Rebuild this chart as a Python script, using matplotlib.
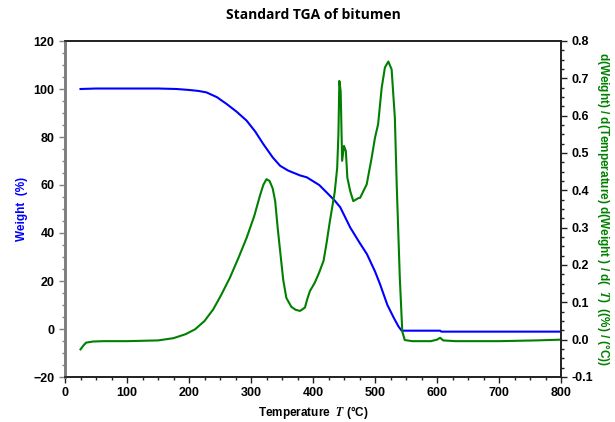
"""Standard TGA of bitumen: weight and its temperature derivative."""

import matplotlib

matplotlib.use("Agg")
import matplotlib.pyplot as plt
from matplotlib.ticker import FormatStrFormatter, MultipleLocator

# weight curve (%)
temp_w = [25, 50, 100, 150, 180, 200, 215, 228, 245, 261, 277, 293, 307, 320,
          335, 347, 360, 379, 390, 410, 422, 435, 444, 460, 475, 487, 500, 508,
          520, 530, 538, 543, 550, 605, 607, 700, 800]
weight = [100, 100.2, 100.2, 100.2, 100, 99.6, 99.2, 98.6, 96.6, 93.7, 90.5,
          86.8, 82.2, 77, 71.5, 68, 66, 64, 63.2, 60, 56.9, 53.5, 50.7, 42.3, 36,
          31.2, 24, 18.75, 10, 4.8, 1, -0.7, -0.7, -0.7, -1.1, -1.1, -1.1]

# derivative curve (%/°C)
temp_d = [25, 30, 34, 45, 62, 100, 150, 175, 195, 210, 225, 239, 252, 266, 280,
          293, 305, 315, 320, 325, 330, 335, 339, 343, 347, 352, 357, 365, 372,
          379, 387, 391, 395, 403, 410, 417, 422, 427, 435, 439, 441, 442.5,
          444.6, 447, 450, 453, 455.4, 460, 465, 473, 476, 486.6, 494.6, 500,
          505, 510.8, 516, 521.5, 526.8, 532, 535, 540, 544, 548, 560, 590, 600,
          605, 610, 630, 700, 760, 800]
deriv = [-0.026, -0.015, -0.008, -0.005, -0.004, -0.004, -0.002, 0.004, 0.015,
         0.028, 0.05, 0.081, 0.12, 0.166, 0.22, 0.273, 0.33, 0.389, 0.415, 0.43,
         0.425, 0.405, 0.371, 0.30, 0.237, 0.16, 0.112, 0.088, 0.08, 0.077,
         0.086, 0.11, 0.13, 0.153, 0.18, 0.211, 0.26, 0.315, 0.395, 0.46, 0.55,
         0.693, 0.666, 0.479, 0.519, 0.505, 0.434, 0.398, 0.371, 0.379, 0.38,
         0.416, 0.487, 0.541, 0.577, 0.675, 0.729, 0.745, 0.724, 0.595, 0.416,
         0.166, 0.022, -0.001, -0.004, -0.004, 0.0, 0.005, -0.002, -0.004,
         -0.004, -0.002, 0.0]

GREY = "#808080"
DARK = "#202020"
BLUE = "#0000ff"
GREEN = "#008000"

plt.rcParams["font.family"] = ["Liberation Sans", "DejaVu Sans"]
plt.rcParams["font.weight"] = "bold"
plt.rcParams["mathtext.fontset"] = "stix"

fig = plt.figure(figsize=(6.15, 4.22), dpi=100)
ax = fig.add_axes([65 / 615, 1 - 377 / 422, 496 / 615, 336 / 422])
ax2 = ax.twinx()

ax.plot(temp_w, weight, color=BLUE, linewidth=1.5)
ax2.plot(temp_d, deriv, color=GREEN, linewidth=1.5)

ax.set_xlim(0, 800)
ax.set_ylim(-20, 120)
ax2.set_ylim(-0.1, 0.8)

ax.xaxis.set_major_locator(MultipleLocator(100))
ax.xaxis.set_minor_locator(MultipleLocator(25))
ax.yaxis.set_major_locator(MultipleLocator(20))
ax.yaxis.set_minor_locator(MultipleLocator(5))
ax2.yaxis.set_major_locator(MultipleLocator(0.1))
ax2.yaxis.set_minor_locator(MultipleLocator(0.025))
ax2.yaxis.set_major_formatter(FormatStrFormatter("%.1f"))

for a in (ax, ax2):
    for side in ("top", "right", "bottom"):
        a.spines[side].set_color(DARK)
        a.spines[side].set_linewidth(1.2)
    a.spines["left"].set_color(GREY)
    a.spines["left"].set_linewidth(2)
    a.tick_params(which="both", direction="out", color=DARK, labelsize=9,
                  labelcolor="black")
    a.tick_params(which="major", length=4, width=1)
    a.tick_params(which="minor", length=2, width=1)
ax.tick_params(axis="y", which="both", color=GREY)

ax.set_xlabel(r"Temperature  $T$ (°C)", fontsize=8.5, fontweight="bold", labelpad=3)
ax.set_ylabel("Weight  (%)", fontsize=8.5, fontweight="bold", color=BLUE, labelpad=4)
ax2.set_ylabel(r"d(Weight) / d(Temperature) d(Weight ) / d(  $T$)  ((%) / (°C))",
               fontsize=8.5, fontweight="bold", color=GREEN, rotation=270,
               labelpad=14)

fig.suptitle("Standard TGA of bitumen", x=313 / 615, y=1 - 8 / 422,
             fontsize=10, fontweight="bold", family=["Open Sans", "DejaVu Sans"])

fig.savefig("out.png", dpi=100)
